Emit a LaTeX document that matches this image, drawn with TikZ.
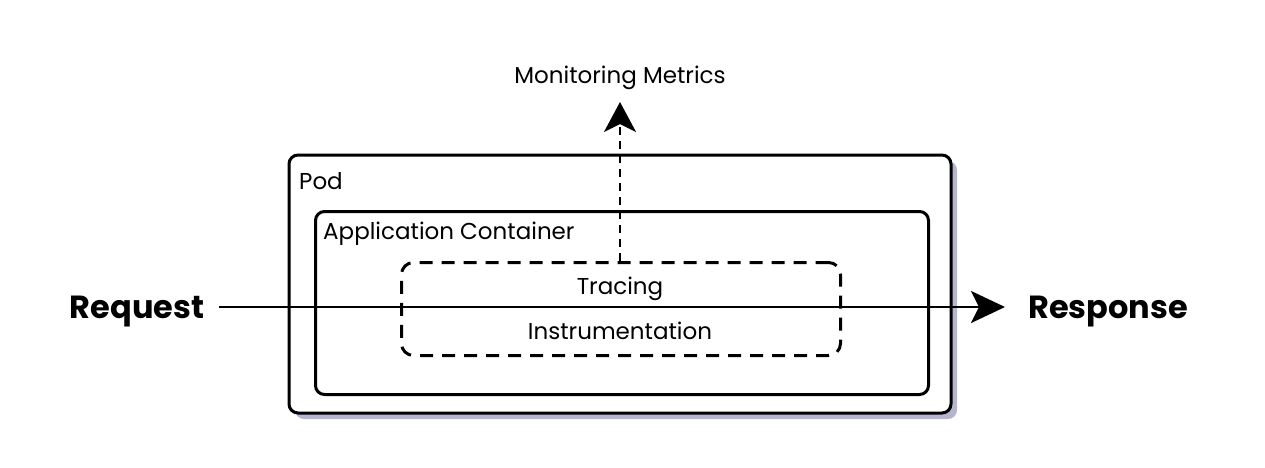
\documentclass[tikz,border=0pt]{standalone}
\usepackage{fontspec}
\setmainfont{Poppins}
\usetikzlibrary{arrows.meta}
\definecolor{shadowc}{HTML}{B4B6CF}
\tikzset{
  box/.style={draw=black, line width=3pt, rounded corners=9pt},
  dbox/.style={draw=black, line width=3pt, rounded corners=12pt, dash pattern=on 13pt off 9pt},
  lbl/.style={font=\fontsize{23}{26}\selectfont, inner sep=0pt},
  big/.style={font=\bfseries\fontsize{32}{36}\selectfont, inner sep=0pt},
  flow/.style={line width=2.8pt, -{Stealth[length=34pt, width=32pt, inset=8pt]}},
  up/.style={line width=2.8pt, dash pattern=on 8pt off 6pt, -{Stealth[length=30pt, width=32pt, inset=8pt]}}
}
\begin{document}
\begin{tikzpicture}[x=1pt,y=-1pt]
\useasboundingbox (0,0) rectangle (1265,467);
\fill[shadowc, rounded corners=9pt] (295,161) rectangle (957,419);
\fill[white, draw=black, line width=3pt, rounded corners=9pt] (289,155) rectangle (951,413);
\node[box, minimum width=613pt, minimum height=183pt, anchor=north west] (app) at (314,210) {};
\node[dbox, minimum width=439pt, minimum height=93pt, anchor=north west] (trace) at (400,261) {};
\node[lbl, anchor=west] (pod) at (299,181) {Pod};
\node[lbl, anchor=west] (applbl) at (323,234) {Application Container};
\node[lbl] (tr) at (620,289) {Tracing};
\node[lbl] (ins) at (620,331) {Instrumentation};
\node[lbl] (mon) at (620,78) {Monitoring Metrics};
\node[big] (req) at (137,312) {Request};
\node[big] (resp) at (1108,312) {Response};
\coordinate (a) at (219,307);
\coordinate (b) at (1005,307);
\draw[flow] (a) -- (b);
\coordinate (mtop) at (620,102);
\draw[up] (trace.north -| mtop) -- (mtop);
\end{tikzpicture}
\end{document}
